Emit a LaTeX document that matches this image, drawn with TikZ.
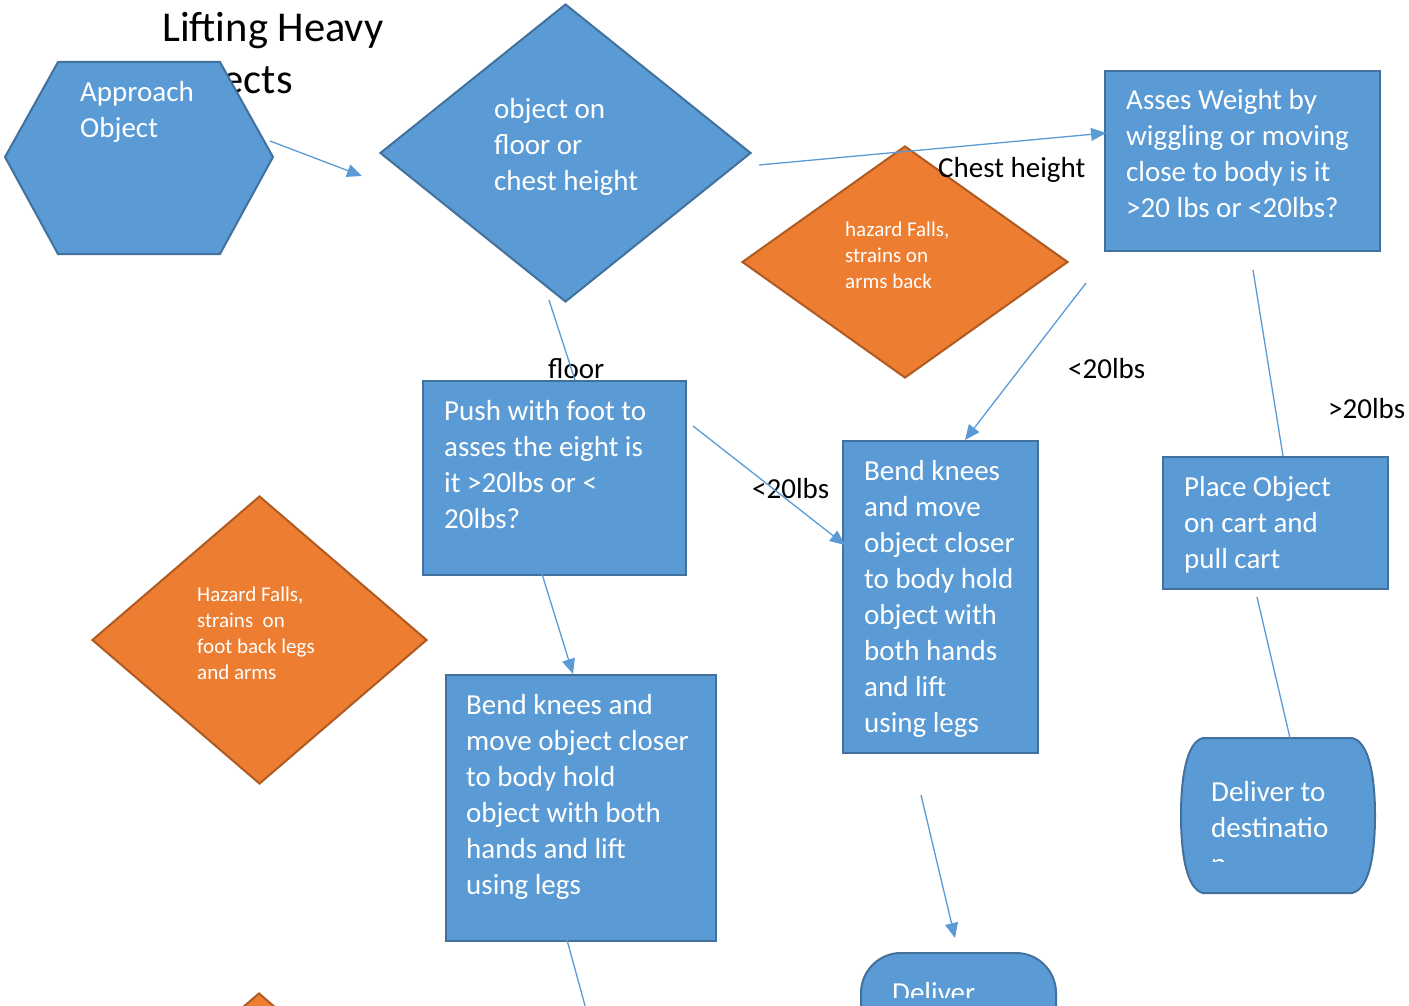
\documentclass[tikz,border=0pt]{standalone}
\usepackage{fontspec}
\setmainfont{Carlito}
\usetikzlibrary{shapes.geometric,arrows.meta}

\definecolor{boxblue}{HTML}{5B9BD5}
\definecolor{boxedge}{HTML}{41719C}
\definecolor{hazorange}{HTML}{ED7D31}
\definecolor{hazedge}{HTML}{AE5A21}

% lines hung from the baseline of the first one
\newcommand{\txtlines}[1]{\begin{tabular}[t]{@{}l@{}}#1\end{tabular}}

\tikzset{
  bluefill/.style={fill=boxblue, draw=boxedge, line width=2pt},
  bluebox/.style={bluefill, rectangle, inner sep=0pt, anchor=north west},
  hazard/.style={diamond, fill=hazorange, draw=hazedge, line width=2pt, inner sep=0pt},
  decision/.style={diamond, bluefill, inner sep=0pt},
  boxtext/.style={anchor=base west, inner sep=0pt, text=white,
    font=\fontsize{29}{36}\selectfont},
  haztext/.style={anchor=base west, inner sep=0pt, text=white,
    font=\fontsize{21}{26}\selectfont},
  edgetext/.style={anchor=base west, inner sep=0pt, font=\fontsize{29}{36}\selectfont},
  link/.style={draw=boxblue, line width=1.3pt},
  linkarrow/.style={link, -{Triangle[length=15pt,width=13pt]}}
}

\begin{document}
\begin{tikzpicture}[x=1pt, y=-1pt]
  \useasboundingbox (0,0) rectangle (1409,1006);
  \clip (0,0) rectangle (1409,1006);

  % title, partly hidden behind the first step
  \node[anchor=base west, inner sep=0pt,
    font=\fontsize{42.5}{52}\selectfont] (title) at (162,42) {\txtlines{Lifting Heavy\\Objects}};

  % first step
  \draw[bluefill] (5,157) -- (58,62) -- (220,62) -- (273,157) -- (220,254) -- (58,254) -- cycle;
  \node[boxtext] (approach) at (80,102) {\txtlines{Approach\\Object}};

  % decision and hazards
  \node[decision, minimum width=371pt, minimum height=298pt] (where) at (565.5,153) {};
  \node[boxtext] (where-txt) at (494,119) {\txtlines{object on\\floor or\\chest height}};

  \node[hazard, minimum width=326pt, minimum height=232pt] (haz-chest) at (905,262) {};
  \node[haztext] (haz-chest-txt) at (845,236) {\txtlines{hazard Falls,\\strains on\\arms back}};

  \node[hazard, minimum width=335pt, minimum height=288pt] (haz-floor) at (259.5,640) {};
  \node[haztext] (haz-floor-txt) at (197,601) {\txtlines{Hazard Falls,\\strains\ \ on\\foot back legs\\and arms}};

  \node[hazard, minimum width=335pt, minimum height=288pt] (haz-low) at (259,1137) {};

  % boxes
  \node[bluebox, minimum width=275pt, minimum height=180pt] (assess) at (1104,70) {};
  \node[boxtext] (assess-txt) at (1126,110) {\txtlines{Asses Weight by\\wiggling or moving\\close to body is it\\>20 lbs or <20lbs?}};

  \node[bluebox, minimum width=263pt, minimum height=194pt] (push) at (422,380) {};
  \node[boxtext] (push-txt) at (444,420) {\txtlines{Push with foot to\\asses the eight is\\it >20lbs or <\\20lbs?}};

  \node[bluebox, minimum width=195pt, minimum height=312pt] (bend-up) at (842,440) {};
  \node[boxtext] (bend-up-txt) at (864,480) {\txtlines{Bend knees\\and move\\object closer\\to body hold\\object with\\both hands\\and lift\\using legs}};

  \node[bluebox, minimum width=225pt, minimum height=132pt] (cart) at (1162,456) {};
  \node[boxtext] (cart-txt) at (1184,496) {\txtlines{Place Object\\on cart and\\pull cart}};

  \node[bluebox, minimum width=270pt, minimum height=266pt] (bend-low) at (445,674) {};
  \node[boxtext] (bend-low-txt) at (466,714) {\txtlines{Bend knees and\\move object closer\\to body hold\\object with both\\hands and lift\\using legs}};

  % ends
  \draw[bluefill] (1203,738) -- (1352,738) .. controls (1370,742) and (1375,780) .. (1375,815)
    .. controls (1375,852) and (1370,889) .. (1352,893) -- (1203,893)
    .. controls (1186,889) and (1181,852) .. (1181,815)
    .. controls (1181,780) and (1186,742) .. (1203,738) -- cycle;
  \begin{scope}
    \clip (1181,738) rectangle (1375,861);
    \node[boxtext] (dest-txt) at (1211,801) {\txtlines{Deliver to\\destinatio\\n}};
  \end{scope}

  \node[bluebox, rounded corners=40pt, minimum width=195pt, minimum height=110pt] (deliver) at (860,952) {};
  \begin{scope}
    \clip (860,952) rectangle (1055,997);
    \node[boxtext] (deliver-txt) at (892,1002) {Deliver};
  \end{scope}

  % connector labels
  \node[edgetext] (lbl-chest) at (938,178) {Chest height};
  \node[edgetext] (lbl-floor) at (548,378) {floor};
  \node[edgetext] (lbl-less-a) at (1068,378) {<20lbs};
  \node[edgetext] (lbl-more) at (1328,418) {>20lbs};
  \node[edgetext] (lbl-less-b) at (752,498) {<20lbs};

  % connector ends
  \coordinate (hex-out) at (270,141);
  \coordinate (where-in) at (362,176);
  \coordinate (where-right) at (759,165);
  \coordinate (assess-in) at (1106,133);
  \coordinate (where-down) at (549,300);
  \coordinate (push-in) at (575,380);
  \coordinate (assess-out-a) at (1086,283);
  \coordinate (bend-up-in) at (965,440);
  \coordinate (assess-out-b) at (1253,270);
  \coordinate (cart-in) at (1283,456);
  \coordinate (push-right) at (693,426);
  \coordinate (bend-up-side) at (845,545);
  \coordinate (push-down) at (542,574);
  \coordinate (bend-low-in) at (573,674);
  \coordinate (bend-up-out) at (921,795);
  \coordinate (deliver-in) at (955,938);
  \coordinate (cart-out) at (1257,597);
  \coordinate (dest-in) at (1290,738);
  \coordinate (bend-low-out) at (567,940);
  \coordinate (off-page) at (589,1020);

  % connectors
  \draw[linkarrow] (hex-out) -- (where-in);
  \draw[linkarrow] (where-right) -- (assess-in);
  \draw[link] (where-down) -- (push-in);
  \draw[linkarrow] (assess-out-a) -- (bend-up-in);
  \draw[link] (assess-out-b) -- (cart-in);
  \draw[linkarrow] (push-right) -- (bend-up-side);
  \draw[linkarrow] (push-down) -- (bend-low-in);
  \draw[linkarrow] (bend-up-out) -- (deliver-in);
  \draw[link] (cart-out) -- (dest-in);
  \draw[link] (bend-low-out) -- (off-page);
\end{tikzpicture}
\end{document}
